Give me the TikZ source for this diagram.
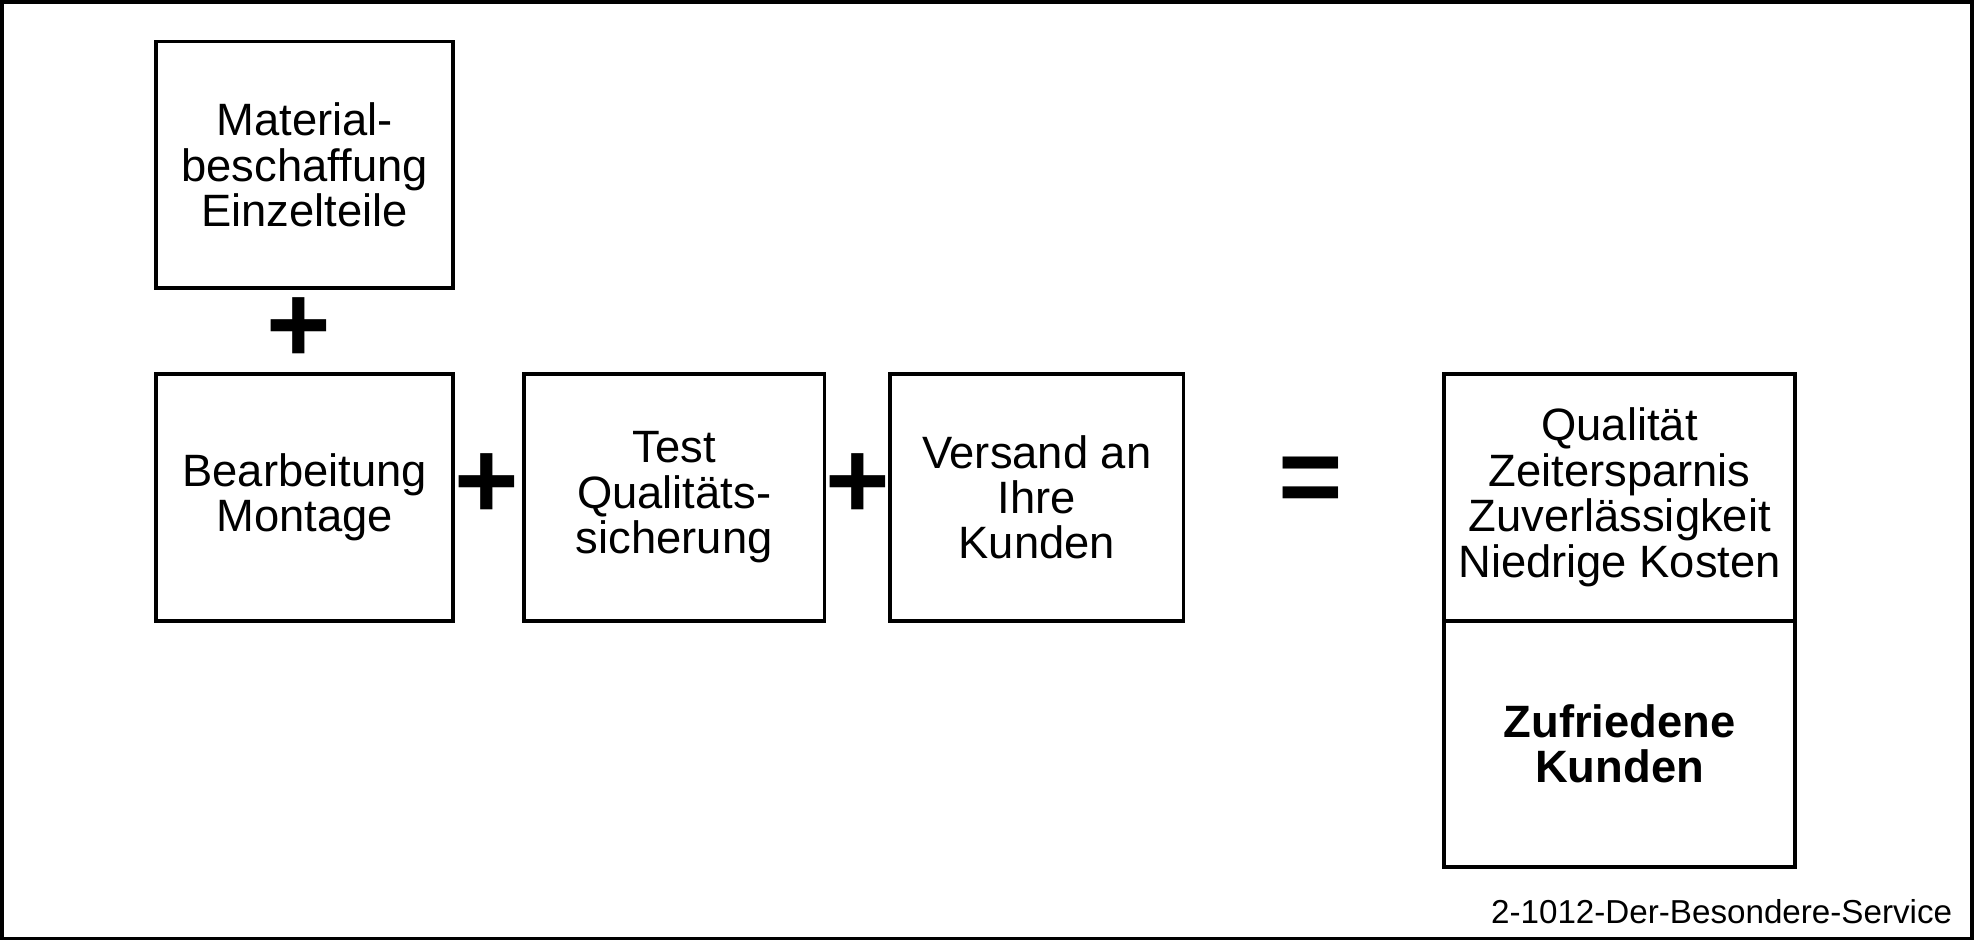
\documentclass[tikz,border=0pt]{standalone}
\usepackage{fontspec}
\setmainfont{Liberation Sans}
\begin{document}
\begin{tikzpicture}[x=0.02cm, y=-0.02cm, line width=1.7pt,
		every node/.style={font=\fontsize{20.5}{20.5}\selectfont, align=center},
		stepbox/.style={draw, inner sep=0pt, outer sep=0pt, minimum width=4.72cm, minimum height=3.92cm},
		opsign/.style={font=\bfseries\fontsize{50}{50}\selectfont, inner sep=0pt}]
		% Frame
		\draw (1.5,1.5) rectangle (1566.5,745.5);
		\useasboundingbox (0,0) rectangle (1568,747);

		% Boxes
		\node[stepbox] (material) at (242,131) {Material-\\beschaffung\\Einzelteile};
		\node[stepbox] (montage) at (242,395) {Bearbeitung\\Montage};
		\node[stepbox, minimum width=4.78cm] (test) at (535.5,395) {Test\\Qualitäts-\\sicherung};
		\node[stepbox, minimum width=4.66cm] (versand) at (823.5,395) {Versand an\\Ihre\\Kunden};

		% Result
		\node[stepbox, minimum width=5.58cm] (nutzen) at (1286.5,395) {Qualität\\Zeitersparnis\\Zuverlässigkeit\\Niedrige Kosten};
		\node[stepbox, minimum width=5.58cm, anchor=north] (kunden) at (nutzen.south) {\bfseries Zufriedene\\\bfseries Kunden};

		% Signs
		\node[opsign] (plusa) at (237,262) {+};
		\node[opsign] (plusb) at (387,386) {+};
		\node[opsign] (plusc) at (681,386) {+};
		\node[opsign] (gleich) at (1041,386) {=};

		\node[anchor=east, font=\fontsize{15}{17}\selectfont] (kennung) at (1558,724) {2-1012-Der-Besondere-Service};
	\end{tikzpicture}
\end{document}
